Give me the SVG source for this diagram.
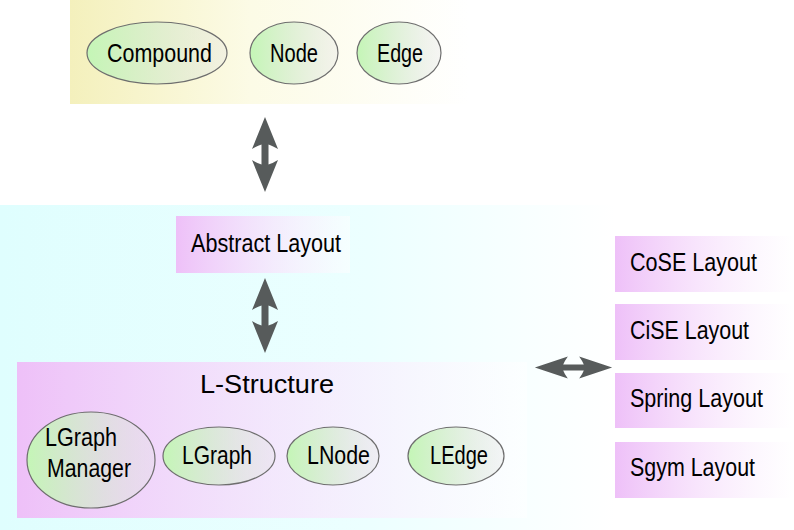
<svg xmlns="http://www.w3.org/2000/svg" width="794" height="530" viewBox="0 0 794 530">
<defs>
<linearGradient id="gYellow" x1="0" y1="0" x2="1" y2="0">
<stop offset="0" stop-color="#f4f0bc"/>
<stop offset="0.45" stop-color="#fcfbe6"/>
<stop offset="1" stop-color="#ffffff"/>
</linearGradient>
<linearGradient id="gCyan" x1="0" y1="0" x2="1" y2="0">
<stop offset="0" stop-color="#dffefe"/>
<stop offset="0.6" stop-color="#ecffff"/>
<stop offset="1" stop-color="#ffffff"/>
</linearGradient>
<linearGradient id="gPink" x1="0" y1="0" x2="1" y2="0">
<stop offset="0" stop-color="#eec0f8"/>
<stop offset="1" stop-color="#ffffff" stop-opacity="0.5"/>
</linearGradient>
<linearGradient id="gGreen" x1="0" y1="0" x2="1" y2="0">
<stop offset="0" stop-color="#c4f6b6"/>
<stop offset="1" stop-color="#e0e0e0" stop-opacity="0.3"/>
</linearGradient>
<path id="varrow" d="M0,-37.5 L13,-5.5 Q7,-9 3.5,-10 L3.5,10 Q7,9 13,5.5 L0,37.5 L-13,5.5 Q-7,9 -3.5,10 L-3.5,-10 Q-7,-9 -13,-5.5 Z"/>
</defs>
<style>
text{font-family:"Liberation Sans",Arial,sans-serif;font-size:26px;fill:#000;}
.ell{fill:url(#gGreen);stroke:#6e6e6e;stroke-width:1.2;}
.box{fill:url(#gPink);}
.arr{fill:#575b5b;}
</style>

<g id="panels">
<rect x="70" y="0" width="400" height="104" fill="url(#gYellow)"/>
<rect x="0" y="205" width="615" height="325" fill="url(#gCyan)"/>
</g>

<g id="compound">
<ellipse class="ell" cx="157" cy="53" rx="70" ry="31"/>
<text x="107" y="62" textLength="105" lengthAdjust="spacingAndGlyphs">Compound</text>
</g>
<g id="node">
<ellipse class="ell" cx="294" cy="53" rx="44" ry="31"/>
<text x="270" y="62" textLength="48" lengthAdjust="spacingAndGlyphs">Node</text>
</g>
<g id="edge">
<ellipse class="ell" cx="399" cy="53" rx="42" ry="31"/>
<text x="377" y="62" textLength="46" lengthAdjust="spacingAndGlyphs">Edge</text>
</g>

<g id="abstract-layout">
<rect class="box" x="176" y="216" width="174" height="57"/>
<text x="191" y="252" textLength="150" lengthAdjust="spacingAndGlyphs">Abstract Layout</text>
</g>

<g id="l-structure">
<rect class="box" x="17" y="362" width="510" height="156"/>
<text x="200" y="393" font-size="24" textLength="134" lengthAdjust="spacingAndGlyphs">L-Structure</text>
</g>
<g id="lgraph-manager">
<ellipse class="ell" cx="91" cy="460" rx="64" ry="48"/>
<text x="45" y="446" textLength="72" lengthAdjust="spacingAndGlyphs">LGraph</text>
<text x="47" y="477" textLength="84" lengthAdjust="spacingAndGlyphs">Manager</text>
</g>
<g id="lgraph">
<ellipse class="ell" cx="219" cy="456" rx="56" ry="29"/>
<text x="182" y="464" textLength="70" lengthAdjust="spacingAndGlyphs">LGraph</text>
</g>
<g id="lnode">
<ellipse class="ell" cx="333" cy="456" rx="46" ry="29"/>
<text x="307" y="464" textLength="63" lengthAdjust="spacingAndGlyphs">LNode</text>
</g>
<g id="ledge">
<ellipse class="ell" cx="456" cy="456" rx="48" ry="29"/>
<text x="430" y="464" textLength="58" lengthAdjust="spacingAndGlyphs">LEdge</text>
</g>

<g id="cose-layout">
<rect class="box" x="615" y="236" width="179" height="56"/>
<text x="630" y="271" textLength="127" lengthAdjust="spacingAndGlyphs">CoSE Layout</text>
</g>
<g id="cise-layout">
<rect class="box" x="615" y="304" width="179" height="56"/>
<text x="630" y="339" textLength="119" lengthAdjust="spacingAndGlyphs">CiSE Layout</text>
</g>
<g id="spring-layout">
<rect class="box" x="615" y="373" width="179" height="55"/>
<text x="630" y="407" textLength="133" lengthAdjust="spacingAndGlyphs">Spring Layout</text>
</g>
<g id="sgym-layout">
<rect class="box" x="615" y="442" width="179" height="56"/>
<text x="630" y="476" textLength="125" lengthAdjust="spacingAndGlyphs">Sgym Layout</text>
</g>

<g id="connectors">
<use href="#varrow" class="arr" transform="translate(265,154.5)"/>
<use href="#varrow" class="arr" transform="translate(265,315.5)"/>
<use href="#varrow" class="arr" transform="translate(573.5,367.5) rotate(90) scale(0.85,1.03)"/>
</g>
</svg>
